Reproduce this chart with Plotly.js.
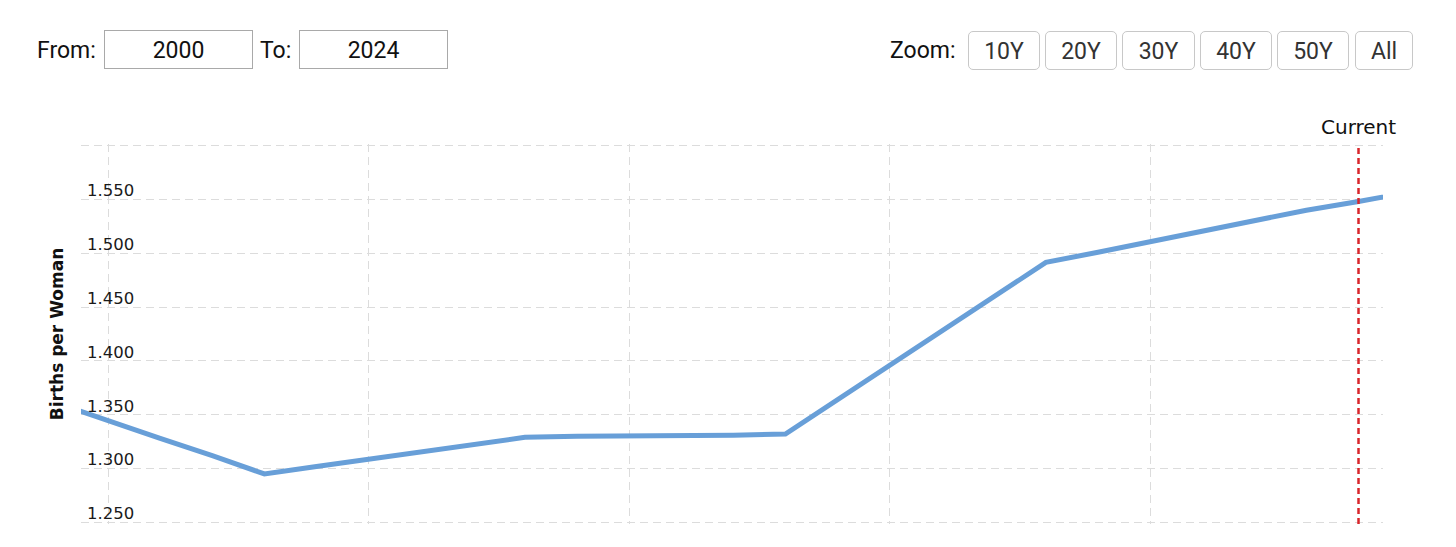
<!DOCTYPE html>
<html>
<head>
<meta charset="utf-8">
<script src="https://cdn.plot.ly/plotly-3.0.1.min.js"></script>
<style>
  html, body { margin: 0; padding: 0; background: #fff; }
  #wrap { position: relative; width: 1456px; height: 547px; overflow: hidden; }
  #chart { position: absolute; left: 0; top: 0; width: 1456px; height: 547px; }
  .hdr { position: absolute; font-family: Roboto, "Open Sans", sans-serif; font-size: 23px; color: #111; line-height: 39px; top: 31px; }
  .box { position: absolute; top: 30px; height: 37px; border: 1px solid #a9a9a9; text-align: center; font-family: Roboto, sans-serif; font-size: 23px; line-height: 39px; color: #111; box-sizing: content-box; }
  .btn { position: absolute; top: 31px; height: 37px; border: 1px solid #c8c8c8; border-radius: 5px; text-align: center; font-family: Roboto, sans-serif; font-size: 23px; line-height: 39px; color: #333; }
</style>
</head>
<body>
<div id="wrap">
  <div id="chart"></div>
  <div class="hdr" style="left:37px;">From:</div>
  <div class="box" id="fromBox" style="left:104px;width:147px;"></div>
  <div class="hdr" style="left:260px;">To:</div>
  <div class="box" id="toBox" style="left:299px;width:147px;"></div>
  <div class="hdr" style="left:890px;">Zoom:</div>
  <div id="btns"></div>
</div>
<script>
// ---- data ----
const years = [1999, 2000, 2001, 2002, 2003, 2004, 2005, 2006, 2007, 2008, 2009, 2010, 2011, 2012, 2013,
               2014, 2015, 2016, 2017, 2018, 2019, 2020, 2021, 2022, 2023, 2024, 2025];
const birthsPerWoman = [1.361, 1.344, 1.328, 1.312, 1.295, 1.302, 1.309, 1.316, 1.322, 1.329, 1.330, 1.330, 1.331, 1.331, 1.332,
               1.364, 1.396, 1.428, 1.460, 1.4915, 1.501, 1.511, 1.521, 1.531, 1.540, 1.548, 1.557];
const fromYear = "2000";
const toYear = "2024";
const currentYear = 2024;
const zoomLabels = ["10Y", "20Y", "30Y", "40Y", "50Y", "All"];
const yTickVals = [1.25, 1.30, 1.35, 1.40, 1.45, 1.50, 1.55, 1.60];
const yTickText = ["1.250", "1.300", "1.350", "1.400", "1.450", "1.500", "1.550", ""];

// ---- header controls ----
document.getElementById('fromBox').textContent = fromYear;
document.getElementById('toBox').textContent = toYear;
const btnPos = [[968, 72], [1045, 72], [1122, 73], [1200, 72], [1277, 72], [1355, 58]];
const btns = document.getElementById('btns');
zoomLabels.forEach((t, i) => {
  const d = document.createElement('div');
  d.className = 'btn';
  d.style.left = btnPos[i][0] + 'px';
  d.style.width = (btnPos[i][1] - 2) + 'px';
  d.textContent = t;
  btns.appendChild(d);
});

// ---- chart ----
const trace = {
  x: years, y: birthsPerWoman, type: 'scatter', mode: 'lines',
  line: { color: '#689fd8', width: 5 }, hoverinfo: 'skip'
};

const layout = {
  width: 1456, height: 547,
  margin: { l: 81, r: 73, t: 144, b: 23 },
  paper_bgcolor: '#ffffff', plot_bgcolor: '#ffffff',
  showlegend: false,
  xaxis: {
    range: [1999.48, 2024.47], tick0: 2000, dtick: 5,
    showticklabels: false, ticks: '', showline: false, zeroline: false,
    showgrid: true, gridcolor: '#dcdcdc', gridwidth: 1, griddash: '8px,5px'
  },
  yaxis: {
    range: [1.2485, 1.6015], tickmode: 'array', tickvals: yTickVals, ticktext: yTickText,
    ticklabelposition: 'inside', ticklabelshift: -9, ticklabelstandoff: 3, ticklabeloverflow: 'allow',
    tickfont: { family: 'DejaVu Sans, Verdana, sans-serif', size: 16.5, color: '#1a1a1a' },
    ticks: '', showline: false, zeroline: false,
    showgrid: true, gridcolor: '#dcdcdc', gridwidth: 1, griddash: '8px,5px',
    title: { text: '<b>Births per Woman</b>', standoff: 19,
             font: { family: 'DejaVu Sans, Verdana, sans-serif', size: 17, color: '#111' } }
  },
  shapes: [{
    type: 'line', xref: 'x', yref: 'paper', x0: currentYear, x1: currentYear, y0: 0, y1: 1,
    line: { color: '#d9262b', width: 2.5, dash: '6px,4px' }
  }],
  annotations: [{
    xref: 'x', yref: 'paper', x: currentYear, y: 1, yanchor: 'bottom', xanchor: 'center',
    text: 'Current', showarrow: false, yshift: 3,
    font: { family: 'DejaVu Sans, Verdana, sans-serif', size: 20, color: '#111' }
  }]
};

Plotly.newPlot('chart', [trace], layout, { displayModeBar: false, staticPlot: true });
</script>
</body>
</html>
